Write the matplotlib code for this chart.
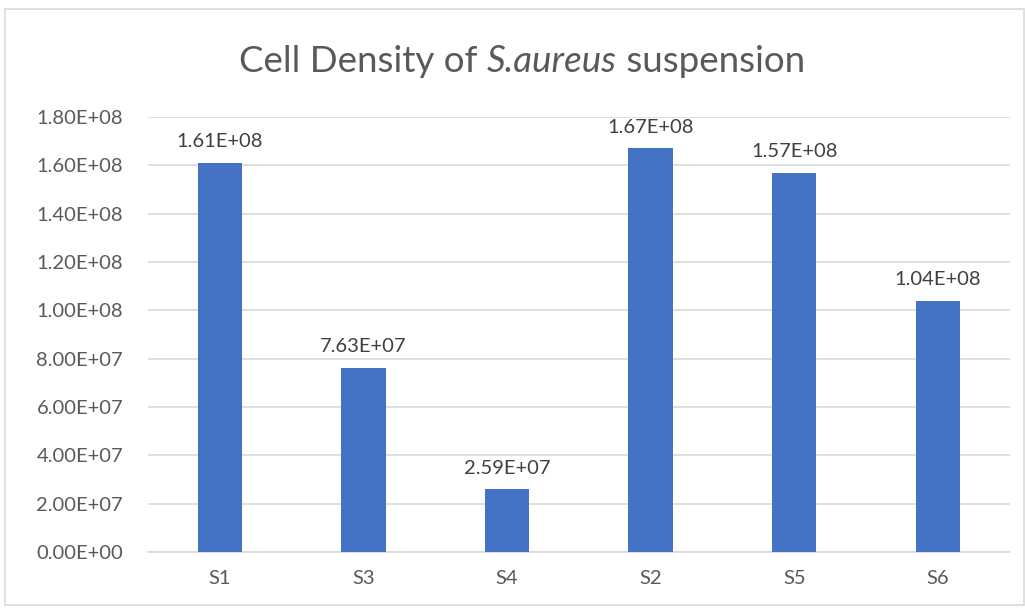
import matplotlib
matplotlib.use("Agg")
import matplotlib.pyplot as plt
from matplotlib.patches import Rectangle

# data
samples = ["S1", "S3", "S4", "S2", "S5", "S6"]
density = [1.61e8, 7.63e7, 2.59e7, 1.67e8, 1.57e8, 1.04e8]
y_ticks = [0, 2e7, 4e7, 6e7, 8e7, 1e8, 1.2e8, 1.4e8, 1.6e8, 1.8e8]

bar_color = "#4472C4"
text_color = "#595959"
grid_color = "#D9D9D9"

plt.rcParams["font.family"] = ["Lato", "DejaVu Sans"]

fig = plt.figure(figsize=(10.25, 6.14), dpi=100)
ax = fig.add_axes([0.1444, 0.101, 0.8406, 0.7084])

# chart border
fig.patches.append(Rectangle((5 / 1025, 9 / 614), 1 - 6 / 1025, 1 - 18 / 614,
                             transform=fig.transFigure, fill=False,
                             edgecolor="#D9D9D9", linewidth=1.2))

x = range(len(samples))
ax.bar(x, density, width=0.31, color=bar_color, zorder=3)
for xi, v in zip(x, density):
    ax.annotate(f"{v:.2E}", (xi, v), xytext=(0, 9),
                textcoords="offset points", ha="center", va="bottom",
                fontsize=14.5, color="#404040")

ax.set_xlim(-0.5, len(samples) - 0.5)
ax.set_ylim(0, 1.8e8)
ax.set_yticks(y_ticks)
ax.set_yticklabels([f"{t:.2E}" for t in y_ticks])
ax.set_xticks(list(x))
ax.set_xticklabels(samples)
ax.tick_params(axis="both", length=0, labelsize=14.5, colors=text_color)
ax.tick_params(axis="y", pad=18)
ax.tick_params(axis="x", pad=13)
ax.grid(axis="y", color=grid_color, linewidth=1.2, zorder=0)
for s in ["top", "right", "left"]:
    ax.spines[s].set_visible(False)
ax.spines["bottom"].set_color(grid_color)
ax.spines["bottom"].set_linewidth(1.2)

# title with italic species name
parts = [("Cell Density of ", "normal"), ("S.aureus", "italic"), (" suspension", "normal")]
fig.canvas.draw()
r = fig.canvas.get_renderer()
texts = []
for s, st in parts:
    t = fig.text(0, 1 - 62 / 614, s, fontsize=26.5, style=st, color=text_color,
                 va="center", ha="left")
    texts.append(t)
widths = [t.get_window_extent(r).width for t in texts]
total = sum(widths)
xpos = 522 - total / 2
for t, w in zip(texts, widths):
    t.set_x(xpos / 1025)
    xpos += w

fig.savefig("out.png", dpi=100)
